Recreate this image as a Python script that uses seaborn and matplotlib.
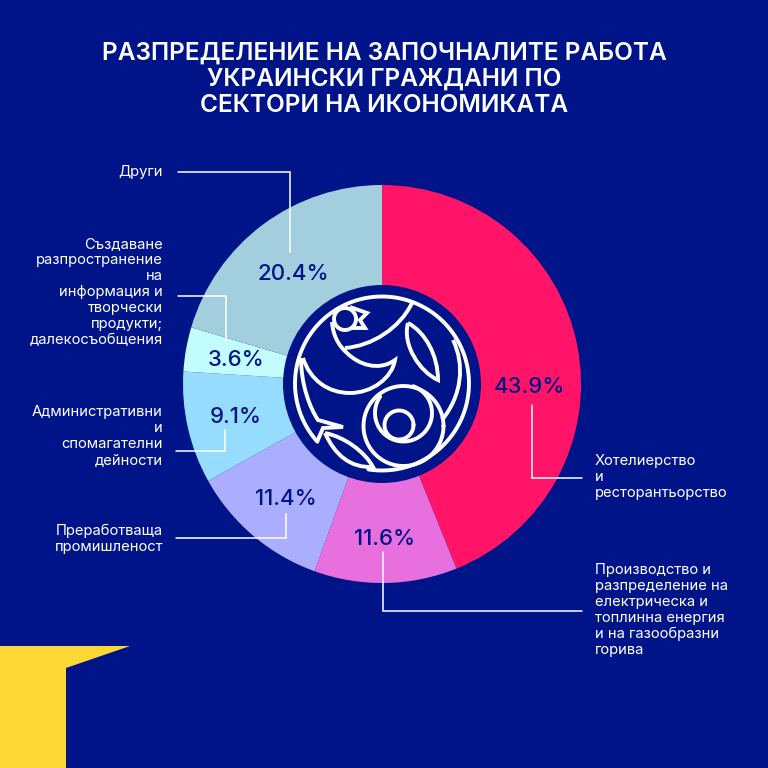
import numpy as np
import seaborn as sns
import matplotlib.pyplot as plt
from matplotlib.path import Path
from matplotlib.patches import PathPatch, Polygon, Circle

# данни
sectors = ['Хотелиерство\nи\nресторантьорство',
           'Производство и\nразпределение на\nелектрическа и\nтоплинна енергия\nи на газообразни\nгорива',
           'Преработваща\nпромишленост',
           'Административни\nи\nспомагателни\nдейности',
           'Създаване\nразпространение\nна\nинформация и\nтворчески\nпродукти;\nдалекосъобщения',
           'Други']
shares = [43.9, 11.6, 11.4, 9.1, 3.6, 20.4]
slice_colors = ['#FF1468', '#E870DE', '#ABAEFF', '#96DCFF', '#C2FCFF', '#A3CEDE']
title_lines = ['РАЗПРЕДЕЛЕНИЕ НА ЗАПОЧНАЛИТЕ РАБОТА', 'УКРАИНСКИ ГРАЖДАНИ ПО', 'СЕКТОРИ НА ИКОНОМИКАТА']

BG = '#00148A'
sns.set_theme(style='white')
plt.rcParams['font.family'] = ['Inter', 'DejaVu Sans']

fig = plt.figure(figsize=(7.68, 7.68), dpi=100, facecolor=BG)

# кръгова диаграма
pie_ax = fig.add_axes([(382 - 199) / 768, 1 - (384 + 199) / 768, 398 / 768, 398 / 768])
pie_ax.pie(shares, colors=sns.color_palette(slice_colors), startangle=90, counterclock=False, radius=1,
           wedgeprops={'linewidth': 0, 'edgecolor': 'none'})
pie_ax.set_xlim(-1, 1)
pie_ax.set_ylim(-1, 1)

# горен слой в пиксели
ax = fig.add_axes([0, 0, 1, 1], facecolor='none')
ax.set_xlim(0, 768)
ax.set_ylim(768, 0)
ax.axis('off')

for i, line in enumerate(title_lines):
    ax.text(384, 53 + i * 26, line, color='white', fontsize=17.6, fontweight='semibold', ha='center', va='center')

# жълт ъгъл
ax.add_patch(Polygon([(0, 646), (130, 646), (66, 668), (66, 768), (0, 768)], color='#FDD835', lw=0))

# стойности
value_pos = [(529, 387), (385, 539), (286, 499), (236, 417), (236, 360), (293, 274)]
for v, (x, y) in zip(shares, value_pos):
    ax.text(x, y, f'{v}%', color=BG, fontsize=16, fontweight='medium', ha='center', va='center')

# надписи
label_pos = [(595, 477, 'left'), (595, 610, 'left'), (163, 539, 'right'),
             (163, 436, 'right'), (163, 292, 'right'), (163, 172, 'right')]
for name, (x, y, ha) in zip(sectors, label_pos):
    ax.text(x, y, name, color='white', fontsize=10.6, ha=ha, va='center', linespacing=1.19, multialignment=ha)

# водещи линии
leaders = [[(532, 405), (532, 478), (582, 478)],
           [(383, 552), (383, 611), (582, 611)],
           [(176, 538), (286, 538), (286, 514)],
           [(176, 451), (225, 451), (225, 430)],
           [(178, 296), (226, 296), (226, 342)],
           [(178, 172), (290, 172), (290, 252)]]
for pts in leaders:
    xs, ys = zip(*pts)
    ax.plot(xs, ys, color='white', lw=1.1, solid_joinstyle='miter')

# емблема в средата
ax.add_patch(Circle((382, 384), 99, color=BG, lw=0, zorder=3))
LOGO_LW = 2.8


def curve(start, *segments):
    verts = [start]
    codes = [Path.MOVETO]
    for seg in segments:
        if len(seg) == 3:
            verts += list(seg)
            codes += [Path.CURVE4] * 3
        else:
            verts.append(seg)
            codes.append(Path.LINETO)
    ax.add_patch(PathPatch(Path(verts, codes), fc='none', ec='white', lw=LOGO_LW, zorder=4, joinstyle='miter'))


def ring(cx, cy, r, a0=0, a1=360):
    t = np.radians(np.arange(a0, a1 + 1, 3))
    ax.plot(cx + r * np.cos(t), cy + r * np.sin(t), color='white', lw=LOGO_LW, zorder=4)


ring(382, 383.5, 87, 138, 460)             # външен кръг
ring(345, 319, 11)                         # глава
curve((350, 307), (367, 313), (360, 320), (365, 328), (350, 328))
# тяло и полумесец
curve((332, 322), ((333, 335), (338, 345), (347, 353)), ((358, 364), (378, 372), (395, 360)),
      ((392, 378), (372, 393), (350, 393)), ((328, 393), (310, 380), (303, 358)))
curve((345, 348), ((372, 346), (400, 328), (412, 303)))     # крило
curve((408, 323), ((425, 332), (438, 355), (438, 380)), ((420, 372), (402, 345), (408, 323)))  # лист
curve((453, 340), ((465, 365), (462, 395), (442, 420)))     # клонка вдясно
# опашка
curve((301, 358), ((301, 385), (310, 408), (318, 420)), (343, 427), (323, 428), (317, 442))
curve((325, 433), ((345, 437), (365, 452), (373, 467)), ((350, 468), (335, 455), (325, 433)))  # долен лист
ring(403.5, 426, 40)                       # роза
ring(403.5, 413, 28.5, -70, 215)
ring(399, 425, 14.5)

fig.savefig('out.png', dpi=100, facecolor=BG)
